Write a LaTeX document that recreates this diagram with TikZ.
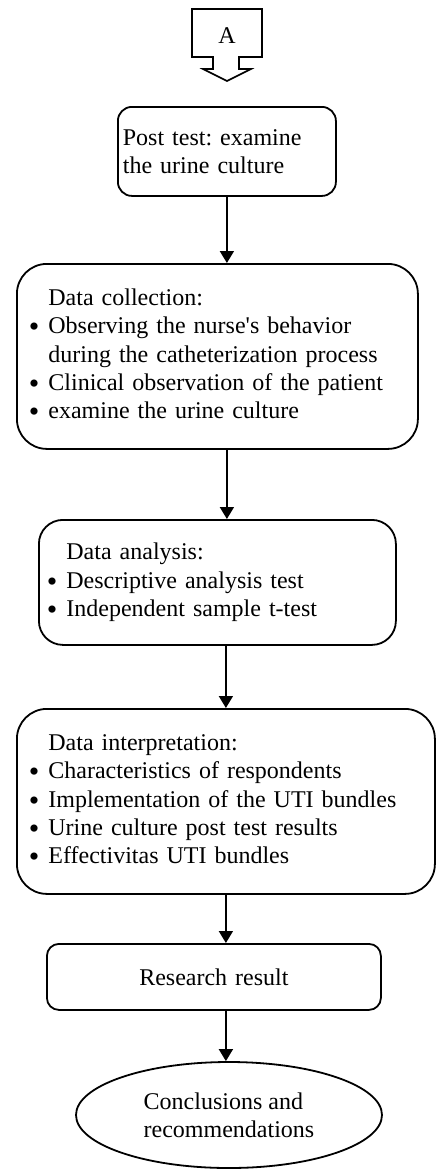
\documentclass[tikz,border=0pt]{standalone}
\usepackage{fontspec}
\setmainfont{Liberation Serif}
\usetikzlibrary{arrows.meta,shapes.geometric}
\frenchspacing

\tikzset{
    box/.style={draw, line width=0.9pt, rounded corners=#1, anchor=north west, align=left,
        inner ysep=0pt, font=\fontsize{12}{14.2}\selectfont},
    box/.default=15pt,
    arr/.style={line width=0.9pt, -{Triangle[length=6pt,width=7pt]}},
}
\newcommand{\blist}[1]{\begin{tabular}{@{}c@{\hspace{4.5pt}}l@{}}#1\end{tabular}}
\newcommand{\bdot}{\raisebox{-1.5pt}{\fontsize{15}{14.2}\selectfont\textbullet}}

\begin{document}
\begin{tikzpicture}[x=0.5pt,y=-0.5pt]

    \useasboundingbox (0,0) rectangle (435,1169);

    % off-page connector
    \node[font=\fontsize{12}{14.2}\selectfont] (A) at (227,36) {A};
    \draw[line width=0.8pt] (192,9) -- (262,9) -- (262,57) -- (239,57) -- (239,69) -- (251,69)
        -- (227,81) -- (203,69) -- (213,69) -- (213,57) -- (192,57) -- cycle;

    % steps
    \node[box=7pt, minimum width=109pt, minimum height=44.5pt, text width=104pt, inner xsep=2.5pt]
        (post) at (117,106) {Post test: examine\\the urine culture};
    \node[box=15pt, minimum width=200.5pt, minimum height=92.5pt, text width=188.5pt, inner xsep=6pt]
        (coll) at (16,263) {\blist{
            & Data collection:\\
            \bdot & Observing the nurse\textquotesingle s behavior\\
            & during the catheterization process\\
            \bdot & Clinical observation of the patient\\
            \bdot & examine the urine culture}};
    \node[box=12pt, minimum width=178.5pt, minimum height=62.5pt, text width=170.5pt, inner xsep=4pt]
        (anal) at (38,519) {\blist{
            & Data analysis:\\
            \bdot & Descriptive analysis test\\
            \bdot & Independent sample t-test}};
    \node[box=15pt, minimum width=209pt, minimum height=92.5pt, text width=197pt, inner xsep=6pt]
        (interp) at (16,708) {\blist{
            & Data interpretation:\\
            \bdot & Characteristics of respondents\\
            \bdot & Implementation of the UTI bundles\\
            \bdot & Urine culture post test results\\
            \bdot & Effectivitas UTI bundles}};
    \node[box=6pt, minimum width=167pt, minimum height=33pt, text width=157pt, inner xsep=5pt, align=center]
        (res) at (46,943) {Research result};
    \node[draw, ellipse, line width=0.9pt, minimum width=153pt, minimum height=53pt, inner sep=0pt,
        align=left, font=\fontsize{12}{14.2}\selectfont]
        (concl) at (229,1115) {Conclusions and\\recommendations};

    \draw[arr] (post) -- (post |- coll.north); % post -> collection
    \draw[arr] (coll.south -| post) -- (anal.north -| post); % collection -> analysis
    \draw[arr] (anal.south -| interp) -- (interp.north); % analysis -> interpretation
    \draw[arr] (interp.south) -- (interp.south |- res.north); % interpretation -> result
    \draw[arr] (res.south -| interp) -- (concl.north -| interp); % result -> conclusions

\end{tikzpicture}
\end{document}
